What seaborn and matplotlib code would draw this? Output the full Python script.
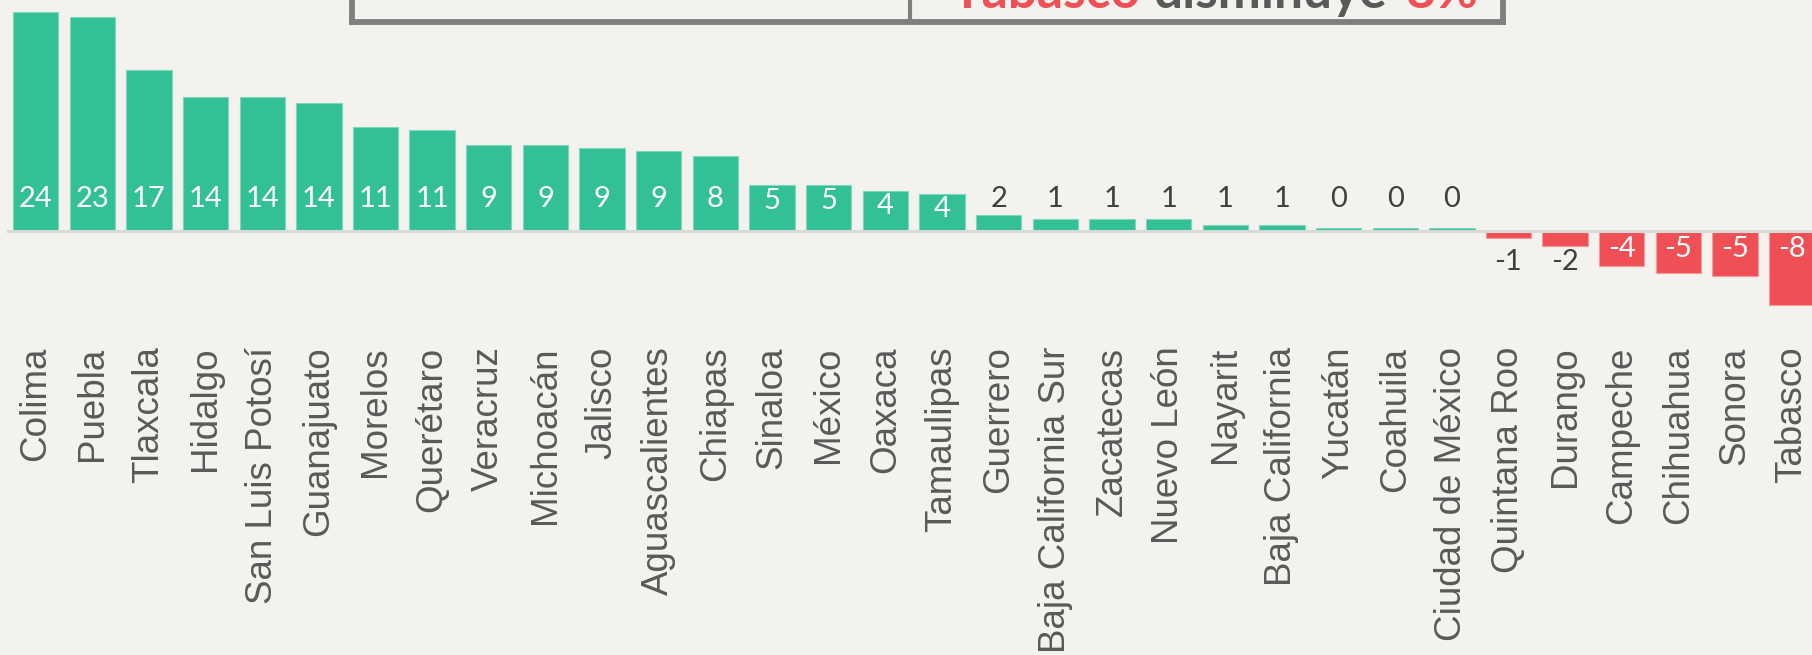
import matplotlib
matplotlib.use("Agg")
import matplotlib.pyplot as plt
import seaborn as sns
import pandas as pd
from matplotlib.lines import Line2D

# ---------------- data ----------------
estados = ["Colima", "Puebla", "Tlaxcala", "Hidalgo", "San Luis Potosí", "Guanajuato",
           "Morelos", "Querétaro", "Veracruz", "Michoacán", "Jalisco", "Aguascalientes",
           "Chiapas", "Sinaloa", "México", "Oaxaca", "Tamaulipas", "Guerrero",
           "Baja California Sur", "Zacatecas", "Nuevo León", "Nayarit", "Baja California",
           "Yucatán", "Coahuila", "Ciudad de México", "Quintana Roo", "Durango",
           "Campeche", "Chihuahua", "Sonora", "Tabasco"]
valores = [23.6, 23.1, 17.3, 14.4, 14.4, 13.8, 11.2, 10.9, 9.2, 9.2, 8.9, 8.6,
           8.1, 4.9, 4.9, 4.3, 4.0, 1.7, 1.2, 1.2, 1.2, 0.6, 0.6,
           0.3, 0.3, 0.3, -0.8, -1.7, -3.8, -4.6, -4.9, -8.1]
titulo_izq = ["24%"]
titulo_der = ["Tabasco", "disminuye", "8%"]

# ---------------- style ----------------
BG = "#F3F2EE"
GREEN = "#33C096"
RED = "#EE5055"
DARK = "#404040"
TICK = "#595959"
BOX = "#7F7F7F"

sns.set_theme(style="white")
plt.rcParams["font.family"] = ["Liberation Sans", "DejaVu Sans"]

W, H = 1812, 655
fig = plt.figure(figsize=(W / 100, H / 100), dpi=100, facecolor=BG)

# axes geometry (pixels)
pitch = 56.65
first_c = 35.6
left_px = first_c - 0.5 * pitch
zero_px = 230.5          # from top
ppu = 9.25               # pixels per unit
ymin, ymax = -10, 26
ax_bottom_px = zero_px - ymin * ppu   # from top
ax = fig.add_axes([left_px / W, (H - ax_bottom_px) / H,
                   len(estados) * pitch / W, (ymax - ymin) * ppu / H])
ax.set_facecolor(BG)

df = pd.DataFrame({"estado": estados, "valor": valores})
df["tipo"] = ["pos" if v >= 0 else "neg" for v in valores]

sns.barplot(data=df, x="estado", y="valor", hue="tipo", order=estados,
            palette={"pos": GREEN, "neg": RED}, dodge=False, legend=False,
            width=0.8, ax=ax, saturation=1)
for p in ax.patches:
    fc = p.get_facecolor()
    if fc[0] > 0.5:
        p.set_edgecolor("#F59A9D")
    else:
        p.set_edgecolor("#7ED8BB")
    p.set_linewidth(0.8)

ax.set_xlim(-0.5, len(estados) - 0.5)
ax.set_ylim(ymin, ymax)
ax.axhline(0, color="#D9D9D9", lw=2.2, zorder=5)

for s in ax.spines.values():
    s.set_visible(False)
ax.set_yticks([])
ax.set_xlabel("")
ax.set_ylabel("")
ax.tick_params(axis="x", length=0, pad=17, labelsize=26.5, labelcolor=TICK)
plt.setp(ax.get_xticklabels(), rotation=90, ha="center", va="top")

# data labels
lab_font = dict(family=["Lato", "DejaVu Sans"], fontsize=21)
for i, v in enumerate(valores):
    txt = f"{round(v):d}"
    if v >= 3:
        y, c = min(v - 1.68, 3.4), "white"
    elif v >= 0:
        y, c = 3.4, DARK
    elif v > -3:
        y, c = -3.4, DARK
    else:
        y, c = -2.0, "white"
    ax.text(i, y, txt, ha="center", va="center", color=c, zorder=6, **lab_font)

# top box (partially visible)
def fx(px):
    return px / W

def fy(py):
    return 1 - py / H

box_kw = dict(color=BOX, lw=4.2, solid_capstyle="projecting", transform=fig.transFigure)
fig.add_artist(Line2D([fx(352), fx(352)], [fy(-20), fy(22)], **box_kw))
fig.add_artist(Line2D([fx(1503), fx(1503)], [fy(-20), fy(22)], **box_kw))
fig.add_artist(Line2D([fx(352), fx(1503)], [fy(22), fy(22)], **box_kw))
fig.add_artist(Line2D([fx(910), fx(910)], [fy(-20), fy(22)], color=BOX, lw=3,
                      transform=fig.transFigure))

title_font = dict(family=["Lato", "DejaVu Sans"], fontweight="bold", fontsize=37,
                  va="baseline", ha="left")
fig.text(fx(951), fy(8), titulo_der[0], color=RED, **title_font)
fig.text(fx(1153), fy(8), titulo_der[1], color="#595959", **title_font)
fig.text(fx(1406), fy(8), titulo_der[2], color=RED, **title_font)

fig.text(fx(850), fy(0.5), titulo_izq[0], color="#7FD9BD",
         family=["Lato", "DejaVu Sans"], fontweight="bold", fontsize=37,
         va="baseline", ha="right")

fig.savefig("out.png", dpi=100, facecolor=BG)
